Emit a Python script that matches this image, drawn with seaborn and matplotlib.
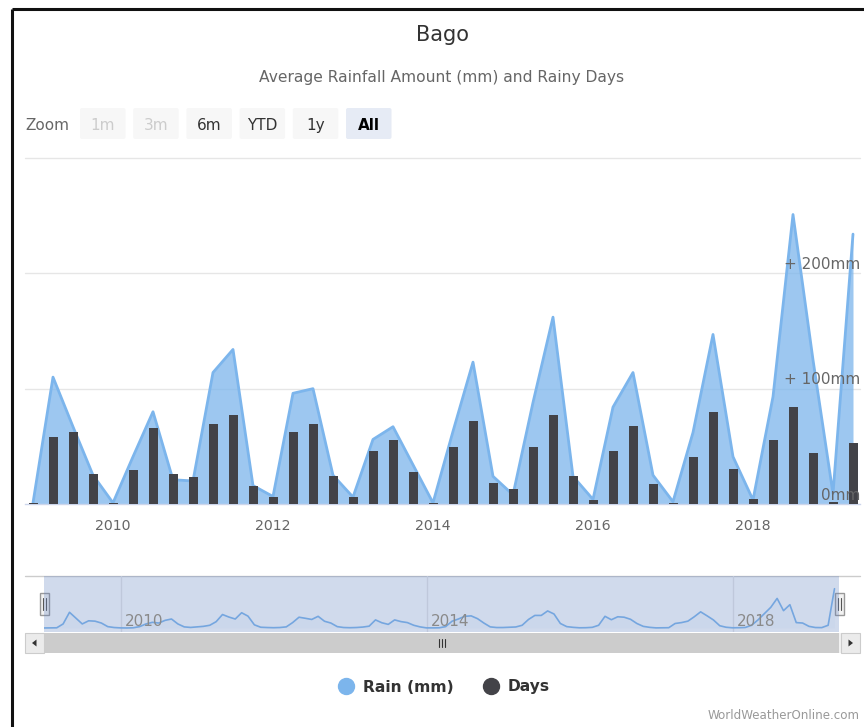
import numpy as np
import pandas as pd
import matplotlib
matplotlib.use("Agg")
import matplotlib.pyplot as plt
import seaborn as sns
from matplotlib.patches import Rectangle, FancyBboxPatch, Polygon
from matplotlib.lines import Line2D
import matplotlib.transforms as mtransforms

# ---------------- data ----------------
chart_title = "Bago"
chart_subtitle = "Average Rainfall Amount (mm) and Rainy Days"
first_quarter = "2009Q1"
rain_mm = [1, 110, 67, 25, 1, 41, 80, 21, 20, 114, 134, 16, 6.5, 96, 100, 25,
           6, 56, 67, 34, 1, 63, 123, 24, 8, 88, 162, 24, 4, 84, 114, 25,
           2, 62, 147, 41, 3.5, 93, 251, 125, 9, 234]
rainy_days = [0.3, 17.4, 18.7, 7.8, 0.3, 8.8, 19.8, 7.8, 7.0, 20.8, 23.2, 4.7, 1.8, 18.7, 20.8, 7.3,
              1.8, 13.8, 16.6, 8.3, 0.3, 14.8, 21.6, 5.5, 3.9, 14.8, 23.2, 7.3, 1.0, 13.8, 20.3, 5.2,
              0.2, 12.2, 23.9, 9.1, 1.3, 16.6, 25.2, 13.3, 0.5, 15.9]
first_month = "2009-01"
nav_rain_mm = [0, 1, 2, 45, 175, 110, 45, 80, 76, 55, 15, 5,
               1, 0, 2, 15, 45, 63, 55, 85, 100, 45, 12, 6,
               12, 18, 30, 70, 150, 122, 100, 170, 132, 35, 8, 5,
               3, 5, 12, 60, 120, 108, 95, 130, 75, 55, 15, 5,
               3, 5, 10, 20, 90, 58, 40, 90, 71, 60, 30, 12,
               1, 1, 2, 15, 75, 100, 130, 135, 104, 55, 12, 5,
               5, 8, 11, 30, 95, 140, 140, 190, 156, 50, 15, 7,
               2, 3, 7, 30, 130, 92, 125, 120, 97, 50, 18, 7,
               1, 2, 3, 50, 60, 76, 125, 180, 136, 90, 25, 8,
               2, 3, 5.5, 30, 90, 160, 230, 330, 193, 260, 60, 55,
               18, 5, 4, 30, 438]
year_ticks = [2010, 2012, 2014, 2016, 2018]
nav_year_ticks = [2010, 2014, 2018]
rain_tick_values = [0, 100, 200]
rain_tick_labels = ["0mm", "+ 100mm", "+ 200mm"]
zoom_buttons = ["1m", "3m", "6m", "YTD", "1y", "All"]
zoom_disabled = ["1m", "3m"]
zoom_selected = "All"
series_names = ["Rain (mm)", "Days"]
credit_text = "WorldWeatherOnline.com"

# ---------------- style ----------------
sns.set_theme(style="white")
plt.rcParams['font.family'] = ['DejaVu Sans']

RAIN_C = '#7cb5ec'
DAYS_C = '#434348'
W, H = 864, 727
fig = plt.figure(figsize=(W / 100, H / 100), dpi=100)
fig.patch.set_facecolor('white')


def box(x0, y0, x1, y1):
    return [x0 / W, 1 - y1 / H, (x1 - x0) / W, (y1 - y0) / H]


def px_off(dx, dy):
    return mtransforms.ScaledTranslation(dx / 100, dy / 100, fig.dpi_scale_trans)


# overlay in pixel coordinates
over = fig.add_axes([0, 0, 1, 1])
over.set_xlim(0, W)
over.set_ylim(H, 0)
over.axis('off')

# frame border
over.plot([12, 12], [9, H], color='#111111', lw=2.2, solid_capstyle='butt')
over.plot([12, W], [9, 9], color='#111111', lw=2.2, solid_capstyle='butt')

# titles
over.text(442, 41, chart_title, ha='center', va='baseline', fontsize=15, color='#333333')
over.text(442, 82, chart_subtitle, ha='center', va='baseline', fontsize=11.2, color='#666666')

# range selector
over.text(25, 130, "Zoom", ha='left', va='baseline', fontsize=11, color='#666666')
for k, lab in enumerate(zoom_buttons):
    x0 = 80 + 53.2 * k
    sel = lab == zoom_selected
    dis = lab in zoom_disabled
    fc = '#e6ebf5' if sel else '#f7f7f7'
    over.add_patch(FancyBboxPatch((x0, 108), 45.5, 31, boxstyle='round,pad=0,rounding_size=2',
                                  fc=fc, ec='none'))
    over.text(x0 + 22.75, 130, lab, ha='center', va='baseline', fontsize=11,
              color='#cccccc' if dis else ('#000000' if sel else '#333333'),
              fontweight='bold' if sel else 'normal')

# ---------------- main chart ----------------
q = pd.period_range(first_quarter, periods=len(rain_mm), freq='Q')
df = pd.DataFrame({'x': q.year + (q.quarter - 1) / 4, 'rain': rain_mm, 'days': rainy_days})

ax = fig.add_axes(box(25, 158, 860, 504))
ax.set_facecolor('none')
for v in [100, 200, 300]:
    ax.axhline(v, color='#e6e6e6', lw=1, zorder=0, clip_on=False)
ax.fill_between(df['x'], df['rain'], color=RAIN_C, alpha=0.75, lw=0, zorder=1)
sns.lineplot(data=df, x='x', y='rain', ax=ax, color=RAIN_C, linewidth=2, errorbar=None, zorder=2)

ax2 = ax.twinx()
sns.barplot(data=df, x='x', y='days', ax=ax2, native_scale=True, width=0.45,
            color=DAYS_C, saturation=1, errorbar=None, linewidth=0)
ax2.xaxis.set_visible(False)

xl = (2009 + (25 - 33) / 80, 2009 + (860 - 33) / 80)
ax.set_xlim(*xl)
ax2.set_xlim(*xl)
ax.set_ylim(0, 300)
ax2.set_ylim(0, 90)
for a in (ax, ax2):
    a.set_xlabel('')
    a.set_ylabel('')
    a.set_yticks([])
    for s in ('top', 'left', 'right'):
        a.spines[s].set_visible(False)
ax2.spines['bottom'].set_visible(False)
ax.spines['bottom'].set_color('#ccd6eb')
ax.spines['bottom'].set_linewidth(1)
ax.set_xticks(year_ticks)
ax.set_xticklabels([str(y) for y in year_ticks])
ax.tick_params(axis='x', direction='out', length=5.8, width=1, color='#ccd6eb',
               labelcolor='#666666', labelsize=10.2, pad=5)

trans = mtransforms.blended_transform_factory(ax2.transAxes, ax.transData) + px_off(0, 9)
for v, lab in zip(rain_tick_values, rain_tick_labels):
    ax2.text(1.0, v, lab, transform=trans, ha='right', va='center', fontsize=11,
             color='#666666', zorder=10, clip_on=False)

# ---------------- navigator ----------------
mth = pd.period_range(first_month, periods=len(nav_rain_mm), freq='M')
nav_df = pd.DataFrame({'x': mth.year + (mth.month - 1) / 12, 'rain': nav_rain_mm})
over.plot([25, 860], [576, 576], color='#cccccc', lw=1)
nav = fig.add_axes(box(44, 576, 839, 632))
nav.set_facecolor('none')
for y in nav_year_ticks:
    nav.axvline(y, color='#e6e6e6', lw=1, zorder=0)
nav.fill_between(nav_df['x'], nav_df['rain'], color=RAIN_C, alpha=0.05, lw=0)
sns.lineplot(data=nav_df, x='x', y='rain', ax=nav, color=RAIN_C, linewidth=1.2, errorbar=None)
nav.set_xlim(2009, 2009 + 795 / 76.5)
nav.set_ylim(-45, 580)
nav.add_patch(Rectangle((0, 0), 1, 1, transform=nav.transAxes,
                        fc=(102 / 255, 133 / 255, 194 / 255, 0.3), ec='none', zorder=5))
ntrans = mtransforms.blended_transform_factory(nav.transData, nav.transAxes) + px_off(4, 0)
for y in nav_year_ticks:
    nav.text(y, 0.11, str(y), transform=ntrans, ha='left', va='baseline', fontsize=11,
             color='#8a8a8a', zorder=6)
nav.axis('off')

# navigator handles
for hx in (44, 839):
    over.add_patch(Rectangle((hx - 4.5, 593), 9, 22, fc='#f2f2f2', ec='#999999', lw=1, zorder=8))
    for dx in (-1.5, 1.5):
        over.plot([hx + dx, hx + dx], [598, 610], color='#555555', lw=0.8, zorder=9)

# scrollbar
over.add_patch(Rectangle((25, 633), 835, 20, fc='#f2f2f2', ec='none'))
over.add_patch(Rectangle((44, 633), 795, 20, fc='#cccccc', ec='none'))
over.add_patch(Rectangle((25, 633), 19, 20, fc='#ebebeb', ec='#cccccc', lw=0.8))
over.add_patch(Rectangle((841, 633), 19, 20, fc='#ebebeb', ec='#cccccc', lw=0.8))
over.add_patch(Polygon([[36.5, 639.5], [36.5, 646.5], [32, 643]], closed=True, fc='#333333', ec='none'))
over.add_patch(Polygon([[848.5, 639.5], [848.5, 646.5], [853, 643]], closed=True, fc='#333333', ec='none'))
for gx in (438.5, 441.5, 444.5):
    over.plot([gx, gx], [639, 647], color='#333333', lw=0.8)

# legend
handles = [Line2D([], [], marker='o', linestyle='none', markersize=11.5,
                  markerfacecolor=c, markeredgecolor=c) for c in (RAIN_C, DAYS_C)]
leg = fig.legend(handles, series_names, loc='center', bbox_to_anchor=(444 / W, 1 - 687 / H),
                 ncol=2, frameon=False, handlelength=1.0, handletextpad=0.6,
                 columnspacing=1.9, prop={'weight': 'bold', 'size': 11.2})
for t in leg.get_texts():
    t.set_color('#333333')

# credits
over.text(860, 719, credit_text, ha='right', va='baseline', fontsize=8.6, color='#999999')

fig.savefig('out.png', dpi=100, facecolor='white')
